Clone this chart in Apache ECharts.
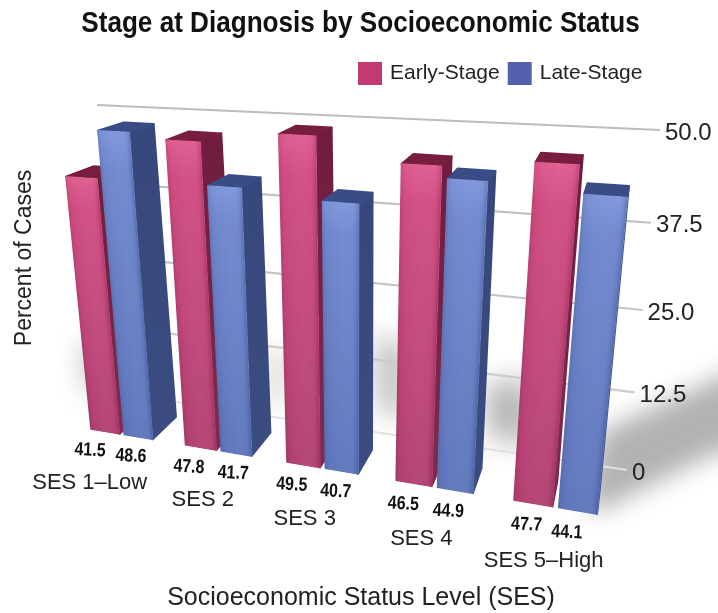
<!DOCTYPE html>
<html>
<head>
<meta charset="utf-8">
<style>html,body{margin:0;padding:0;background:#fff}#chart{width:718px;height:613px}</style>
<script src="https://cdn.jsdelivr.net/npm/echarts@6/dist/echarts.min.js"></script>
</head>
<body>
<div id="chart"></div>
<script>
// Percent of cases by stage and socioeconomic status
const categories = ['SES 1\u2013Low', 'SES 2', 'SES 3', 'SES 4', 'SES 5\u2013High'];
const earlyStage = [41.5, 47.8, 49.5, 46.5, 47.7];
const lateStage = [48.6, 41.7, 40.7, 44.9, 44.1];
const tickValues = [0, 12.5, 25, 37.5, 50];
const tickLabels = ['0', '12.5', '25.0', '37.5', '50.0'];
const tickColors = ['#e0e0e0', '#cccccc', '#c4c4c4', '#c0c0c0', '#bdbdbd'];

// Perspective set-up: where the plot's unit square lands on the page
const FRONT_QUAD = [[91, 429], [597, 514], [632, 149], [60.2, 119]];
const WALL_QUAD = [[122, 394], [627, 470], [660, 130], [97, 105]];
const DEPTH_POINT = [660, -50];
const DEPTH = 0.046;
const BAND_REACH = 0.33;
const CATEGORY_SHIFT = [-36, -18, -18, -11, -7];
const EARLY_LABEL_SHIFT = [-17, -13, -12, -10, -5];
const LATE_LABEL_SHIFT = [-9, -4, -6, -6, -9];
const FONT = '"Liberation Sans", Arial, sans-serif';

function homography(q) {
  const [[x0, y0], [x1, y1], [x2, y2], [x3, y3]] = q;
  const dx1 = x1 - x2, dx2 = x3 - x2, sx = x0 - x1 + x2 - x3;
  const dy1 = y1 - y2, dy2 = y3 - y2, sy = y0 - y1 + y2 - y3;
  const den = dx1 * dy2 - dx2 * dy1;
  const g = (sx * dy2 - dx2 * sy) / den, h = (dx1 * sy - sx * dy1) / den;
  const a = x1 - x0 + g * x1, b = x3 - x0 + h * x3;
  const d = y1 - y0 + g * y1, e = y3 - y0 + h * y3;
  return (u, v) => {
    const w = g * u + h * v + 1;
    return [(a * u + b * v + x0) / w, (d * u + e * v + y0) / w];
  };
}
const frontPlane = homography(FRONT_QUAD);
const wallPlane = homography(WALL_QUAD);

// Point on the slanted front plane for a category offset (in bands) and a value, read through the axes
function project(api, cat, off, value) {
  const bw = api.size([1, 0])[0];
  const left = api.coord([0, 0])[0] - BAND_REACH * bw;
  const right = api.coord([categories.length - 1, 0])[0] + BAND_REACH * bw;
  const y0 = api.coord([0, 0])[1], yTop = api.coord([0, 50])[1];
  const x = api.coord([cat, 0])[0] + off * bw;
  return frontPlane((x - left) / (right - left), (y0 - api.coord([0, value])[1]) / (y0 - yTop));
}
const toBack = p => [p[0] + (DEPTH_POINT[0] - p[0]) * DEPTH, p[1] + (DEPTH_POINT[1] - p[1]) * DEPTH];
const lerp = (a, b, t) => [a[0] + (b[0] - a[0]) * t, a[1] + (b[1] - a[1]) * t];

function mix(hex, k) {
  const n = parseInt(hex.slice(1), 16);
  const t = k < 0 ? 0 : 255, f = Math.abs(k);
  const c = s => Math.round(((n >> s) & 255) * (1 - f) + t * f);
  return `rgb(${c(16)},${c(8)},${c(0)})`;
}

// Sideways shading of a front face: [position across the face, tint]
const FACE_SHADE = [[0, -0.1], [0.06, -0.02], [0.2, 0.02], [0.6, 0.05], [0.86, 0.03], [0.94, -0.04], [1, -0.16]];
const STRIPS = 32;
function shadeAt(t) {
  for (let i = 1; i < FACE_SHADE.length; i++) {
    const [p0, k0] = FACE_SHADE[i - 1], [p1, k1] = FACE_SHADE[i];
    if (t <= p1) return k0 + (k1 - k0) * (t - p0) / (p1 - p0);
  }
  return 0;
}

function barRenderer(offLeft, offRight, palette, labelShifts) {
  return function (params, api) {
    const cat = api.value(0), val = api.value(1);
    const fl0 = project(api, cat, offLeft, 0), fr0 = project(api, cat, offRight, 0);
    const flT = project(api, cat, offLeft, val), frT = project(api, cat, offRight, val);
    const children = [];
    const solid = (pts, col) => ({
      type: 'polygon', shape: { points: pts },
      style: { fill: col, stroke: col, lineWidth: 2, lineJoin: 'round' }
    });
    children.push(solid([fr0, frT, toBack(frT), toBack(fr0)],
      new echarts.graphic.LinearGradient(0, 0, 0, 1, [
        { offset: 0, color: palette.sideTop }, { offset: 1, color: palette.sideBottom }])));
    children.push(solid([flT, frT, toBack(frT), toBack(flT)], palette.top));
    // Front face painted as overlapping vertical strips so the shading follows its slant
    for (let i = 0; i < STRIPS; i++) {
      const t = i / STRIPS, k = shadeAt((i + 0.5) / STRIPS);
      const a = lerp(fl0, fr0, t), b = lerp(flT, frT, t);
      const grad = new echarts.graphic.LinearGradient(0, 0, 0, 1, [
        { offset: 0, color: mix(palette.faceTop, k) },
        { offset: 0.12, color: mix(palette.faceUpper, k) },
        { offset: 1, color: mix(palette.faceBottom, k) }]);
      children.push({
        type: 'polygon', shape: { points: [a, fr0, frT, b] },
        style: i === 0 ? { fill: grad, stroke: grad, lineWidth: 1.5, lineJoin: 'round' } : { fill: grad }
      });
    }
    const anchor = project(api, cat, (offLeft + offRight) / 2, -3.45);
    children.push({
      type: 'text', x: anchor[0] + labelShifts[cat], y: anchor[1], rotation: -0.05, scaleX: 0.84,
      style: {
        text: val.toFixed(1), fill: '#111', align: 'center', verticalAlign: 'middle',
        font: 'bold 19px ' + FONT
      }
    });
    return { type: 'group', children };
  };
}

function tickRenderer(params, api) {
  const v = api.value(1), i = params.dataIndex;
  const y0 = api.coord([0, 0])[1], yTop = api.coord([0, 50])[1];
  const t = (y0 - api.coord([0, v])[1]) / (y0 - yTop);
  const a = wallPlane(0, t), b = wallPlane(1, t);
  return {
    type: 'group', children: [
      { type: 'line', shape: { x1: a[0], y1: a[1], x2: b[0], y2: b[1] },
        style: { stroke: tickColors[i], lineWidth: 2.2 } },
      { type: 'text', x: b[0] + 5, y: b[1] + 3,
        style: { text: tickLabels[i], fill: '#222', align: 'left', verticalAlign: 'middle', font: '24px ' + FONT } }
    ]
  };
}

function categoryRenderer(params, api) {
  const i = api.value(0);
  const p = project(api, i, 0, -8.8);
  return {
    type: 'text', x: p[0] + CATEGORY_SHIFT[i], y: p[1],
    style: { text: categories[i], fill: '#222', align: 'center', verticalAlign: 'middle', font: '22px ' + FONT }
  };
}

const redPalette = { faceTop: '#dd5a8e', faceUpper: '#cf4b80', faceBottom: '#b03f70', sideTop: '#6f1c3e', sideBottom: '#7f2a50', top: '#771d3f' };
const bluePalette = { faceTop: '#7c93d8', faceUpper: '#6e86cc', faceBottom: '#5d74ba', sideTop: '#36477c', sideBottom: '#3b4c80', top: '#3a4c85' };

// Blurred floor shadow: the polygons sit off the page so that only their blur lands on it
function floorShadow(points, alpha, blur) {
  return {
    type: 'polygon', x: -3000, z: 0, silent: true, shape: { points },
    style: { fill: '#000', shadowBlur: blur, shadowColor: `rgba(0,0,0,${alpha})`, shadowOffsetX: 3000 }
  };
}

const chart = echarts.init(document.getElementById('chart'), null, { renderer: 'canvas' });
chart.setOption({
  animation: false,
  backgroundColor: '#fff',
  legend: {
    data: ['Early-Stage', 'Late-Stage'], left: 358, top: 62, padding: 0, icon: 'rect',
    itemWidth: 24, itemHeight: 23, itemGap: 8,
    textStyle: { fontFamily: FONT, fontSize: 21, color: '#222', padding: [6, 0, 0, 3] }
  },
  grid: { left: 100, right: 96, top: 40, bottom: 137, outerBoundsMode: 'none' },
  xAxis: {
    type: 'category', data: categories,
    name: 'Socioeconomic Status Level (SES)', nameLocation: 'middle', nameGap: 110,
    nameTextStyle: { fontFamily: FONT, fontSize: 25, color: '#222' },
    axisLine: { show: false }, axisTick: { show: false }, axisLabel: { show: false }
  },
  yAxis: {
    type: 'value', min: 0, max: 50, interval: 12.5,
    name: 'Percent of Cases', nameLocation: 'middle', nameGap: 64,
    nameTextStyle: { fontFamily: FONT, fontSize: 23, color: '#222' },
    axisLine: { show: false }, axisTick: { show: false }, axisLabel: { show: false }, splitLine: { show: false }
  },
  graphic: {
    elements: [
      floorShadow([[86, 345], [104, 345], [104, 392], [92, 392]], 0.42, 30),
      floorShadow([[262, 350], [292, 350], [292, 405], [268, 405]], 0.12, 24),
      floorShadow([[375, 340], [405, 340], [405, 420], [380, 410]], 0.28, 28),
      floorShadow([[485, 385], [530, 378], [530, 445], [490, 438]], 0.3, 28),
      floorShadow([[585, 505], [600, 432], [718, 378], [800, 340], [800, 448], [718, 452], [598, 512]], 0.3, 24),
      {
        type: 'text', x: 360.5, y: 24, scaleX: 0.9, z: 6, silent: true,
        style: {
          text: 'Stage at Diagnosis by Socioeconomic Status', fill: '#111', align: 'center',
          verticalAlign: 'middle', font: 'bold 29px ' + FONT
        }
      }
    ]
  },
  series: [
    { type: 'custom', name: 'ticks', z: 1, silent: true, renderItem: tickRenderer,
      data: tickValues.map(v => [0, v]) },
    { type: 'custom', name: 'Early-Stage', z: 3, silent: true, itemStyle: { color: '#c23a72' },
      renderItem: barRenderer(-BAND_REACH, -0.02, redPalette, EARLY_LABEL_SHIFT), data: earlyStage.map((v, i) => [i, v]) },
    { type: 'custom', name: 'Late-Stage', z: 4, silent: true, itemStyle: { color: '#5460ab' },
      renderItem: barRenderer(0.03, BAND_REACH, bluePalette, LATE_LABEL_SHIFT), data: lateStage.map((v, i) => [i, v]) },
    { type: 'custom', name: 'levels', z: 5, silent: true, renderItem: categoryRenderer,
      data: categories.map((c, i) => [i, 0]) }
  ]
});
</script>
</body>
</html>
